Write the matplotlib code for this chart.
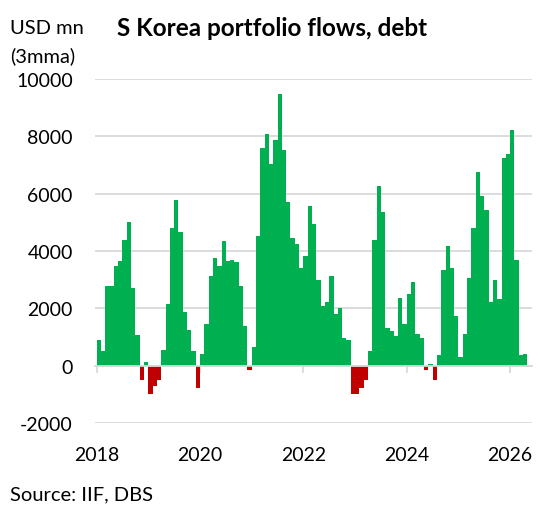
"""S Korea portfolio flows, debt (3mma), monthly bars Jan 2018 - Apr 2026."""

import matplotlib

matplotlib.use("Agg")
import matplotlib.pyplot as plt
import numpy as np

start_year = 2018
flows = [
    900, 490, 2790, 2790, 3480, 3640, 4385, 5025, 2720, 1050, -500, 140,
    -990, -700, -500, 550, 2160, 4800, 5780, 4675, 1880, 1245, 490, -780,
    400, 1460, 3140, 3770, 3490, 4330, 3640, 3700, 3630, 2790, 1395, -150,
    630, 4535, 7605, 8080, 7050, 7870, 9490, 7535, 5720, 4460, 4250, 3420,
    3825, 5570, 4940, 3000, 2090, 2230, 3130, 1810, 2020, 975, 895, -990,
    -990, -790, -500, 490, 4390, 6270, 5360, 1320, 1190, 1040, 2370, 1460,
    2500, 2920, 1110, 960, -150, 60, -500, 350, 3340, 4175, 3420, 1745,
    280, 1105, 3070, 4790, 6760, 5930, 5430, 2220, 2990, 2315, 7257, 7385,
    8220, 3690, 350, 410,
]
year_ticks = [2018, 2020, 2022, 2024, 2026]
y_ticks = [-2000, 0, 2000, 4000, 6000, 8000, 10000]

GREEN = "#00B050"
RED = "#C00000"
GRID = "#D9D9D9"

plt.rcParams["font.family"] = ["Lato", "DejaVu Sans"]
plt.rcParams["axes.unicode_minus"] = False

values = np.array(flows, dtype=float)
months = start_year + np.arange(len(values)) / 12
colors = [GREEN if v >= 0 else RED for v in values]

fig = plt.figure(figsize=(5.4, 5.1), dpi=100)
ax = fig.add_axes([0.176, 0.169, 0.809, 0.674])

ax.bar(months, values, width=1 / 12, align="edge", color=colors, linewidth=0, zorder=2)

ax.set_ylim(-2000, 10000)
ax.set_xlim(2017.97, 2026.42)
ax.set_yticks(y_ticks)
ax.yaxis.grid(True, color=GRID, linewidth=1.3, zorder=0)
ax.tick_params(axis="y", length=0, pad=16, labelsize=14)

for side in ("top", "right", "left"):
    ax.spines[side].set_visible(False)
ax.spines["bottom"].set_position(("data", 0))
ax.spines["bottom"].set_color(GRID)
ax.spines["bottom"].set_linewidth(1.3)
ax.spines["bottom"].set_zorder(3)
ax.set_xticks(year_ticks)
ax.tick_params(axis="x", direction="out", length=5, width=1.3, color=GRID, labelbottom=False)

# year labels sit below the plot area, not on the zero line
labels = ax.secondary_xaxis(0)
labels.set_xticks(year_ticks)
labels.tick_params(length=0, pad=17, labelsize=14)
labels.spines["bottom"].set_visible(False)

fig.text(0.018, 0.945, "USD mn", fontsize=14.5, va="center")
fig.text(0.018, 0.890, "(3mma)", fontsize=14.5, va="center")
fig.text(0.217, 0.945, "S Korea portfolio flows, debt", fontsize=17.5, fontweight="bold", va="center")
fig.text(0.018, 0.030, "Source: IIF, DBS", fontsize=14.5, va="center")

fig.savefig("out.png", dpi=100)
